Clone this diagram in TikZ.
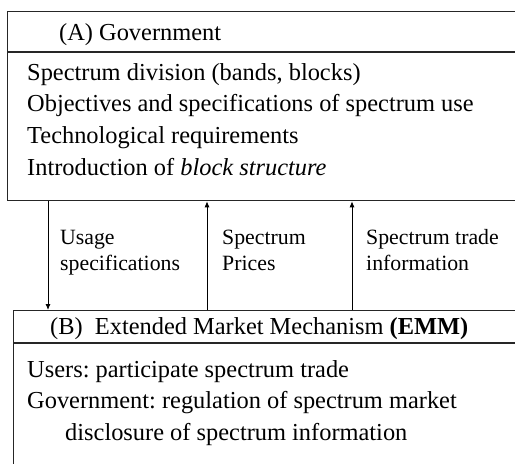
\documentclass[tikz,border=0pt]{standalone}
\usepackage{fontspec}
\setmainfont{Liberation Serif}
\usetikzlibrary{arrows.meta}
\begin{document}
\frenchspacing
\begin{tikzpicture}[x=1pt,y=1pt,
  frame/.style={draw=black!85, line width=1.3pt, inner sep=0pt, anchor=north west},
  rule/.style={draw=black!85, line width=1.3pt},
  big/.style={inner sep=0pt, anchor=base west, font=\fontsize{24.4}{30}\selectfont},
  lab/.style={inner sep=0pt, anchor=base west, font=\fontsize{21.8}{26}\selectfont},
  flow/.style={draw=black, line width=0.9pt, -{Latex[length=6pt,width=5pt]}}]
\clip (0,0) rectangle (515,-464);

% (A) Government box
\node[frame, minimum width=540pt, minimum height=189pt] (boxA) at (7,-11) {};
\draw[rule] ([yshift=-41pt]boxA.north west) -- ([yshift=-41pt]boxA.north east);
\node[big] (aHead) at (59,-40) {(A) Government};
\node[big] (a1) at (27,-80) {Spectrum division (bands, blocks)};
\node[big] (a2) at (27,-111.5) {Objectives and specifications of spectrum use};
\node[big] (a3) at (27,-143) {Technological requirements};
\node[big] (a4) at (27,-175) {Introduction of \textit{block structure}};

% (B) EMM box
\node[frame, minimum width=540pt, minimum height=200pt] (boxB) at (13,-310) {};
\draw[rule] ([yshift=-33pt]boxB.north west) -- ([yshift=-33pt]boxB.north east);
\node[big] (bHead) at (50,-334) {(B)\hspace{0.5em}Extended Market Mechanism \textbf{(EMM)}};
\node[big] (b1) at (27,-377) {Users: participate spectrum trade};
\node[big] (b2) at (27,-408.5) {Government: regulation of spectrum market};
\node[big] (b3) at (65,-440) {disclosure of spectrum information};

% flows between the two boxes
\coordinate (ux) at (48,0);
\coordinate (px) at (207,0);
\coordinate (tx) at (352,0);
\draw[flow] (boxA.south -| ux) -- (boxB.north -| ux);
\draw[flow] (boxB.north -| px) -- (boxA.south -| px);
\draw[flow] (boxB.north -| tx) -- (boxA.south -| tx);

\node[lab] (u1) at (60,-244) {Usage};
\node[lab] (u2) at (60,-270) {specifications};
\node[lab] (p1) at (222,-244) {Spectrum};
\node[lab] (p2) at (222,-270) {Prices};
\node[lab] (t1) at (366,-244) {Spectrum trade};
\node[lab] (t2) at (366,-270) {information};
\end{tikzpicture}
\end{document}
